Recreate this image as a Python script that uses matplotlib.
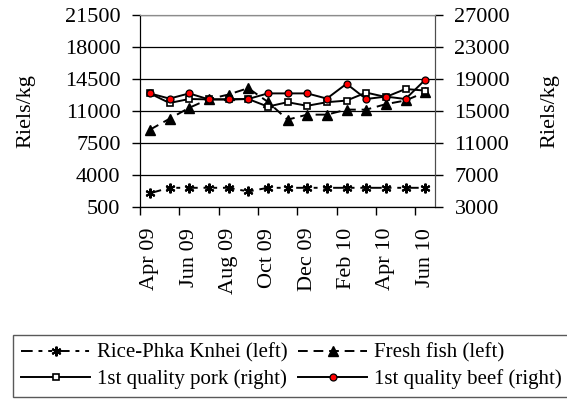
# plot.py
# Rice, fish, pork and beef prices (Riels/kg), Apr 09 - Jun 10

import matplotlib
matplotlib.use("Agg")
import matplotlib.pyplot as plt
import numpy as np

plt.rcParams.update({
    "font.family": ["Liberation Serif", "DejaVu Serif"],
    "font.size": 16,
})

# --- DATA ---
months = ["Apr 09", "May 09", "Jun 09", "Jul 09", "Aug 09", "Sep 09", "Oct 09",
          "Nov 09", "Dec 09", "Jan 10", "Feb 10", "Mar 10", "Apr 10", "May 10",
          "Jun 10"]
rice  = [2000, 2600, 2600, 2600, 2600, 2200, 2600, 2600, 2600, 2600, 2600,
         2600, 2600, 2600, 2600]
fish  = [8950, 10150, 11350, 12300, 12800, 13500, 12000, 10050, 10600, 10600,
         11150, 11150, 11750, 12150, 13050]
pork  = [17200, 16000, 16500, 16450, 16450, 16500, 15550, 16100, 15650, 16100,
         16300, 17300, 16750, 17750, 17550]
beef  = [17200, 16550, 17200, 16450, 16450, 16500, 17200, 17200, 17200, 16550,
         18400, 16500, 16800, 16500, 18900]

left_ticks  = [500, 4000, 7500, 11000, 14500, 18000, 21500]
right_ticks = [3000, 7000, 11000, 15000, 19000, 23000, 27000]

# --- FIGURE ---
fig = plt.figure(figsize=(5.67, 4.0), dpi=100)
ax = fig.add_axes([140/567, 1 - 207/400, 295/567, 192/400])
ax2 = ax.twinx()

x = np.arange(len(months))

l_rice, = ax.plot(x, rice, color="black", lw=1.4, dashes=(6, 3, 2, 3, 2, 3),
                  marker=(6, 2, 0), ms=7, mew=1.5, label="Rice-Phka Knhei (left)")
l_fish, = ax.plot(x, fish, color="black", lw=1.4, dashes=(5, 3),
                  marker="^", ms=7, mfc="black", mec="black",
                  label="Fresh fish (left)")
l_pork, = ax2.plot(x, pork, color="black", lw=1.4, marker="s", ms=4.5,
                   mfc="white", mec="black", mew=1.2,
                   label="1st quality pork (right)")
l_beef, = ax2.plot(x, beef, color="black", lw=1.4, marker="o", ms=5,
                   mfc="red", mec="black", mew=0.9,
                   label="1st quality beef (right)")

# axes limits / ticks
ax.set_xlim(-0.5, len(months) - 0.5)
ax.set_ylim(left_ticks[0], left_ticks[-1])
ax2.set_ylim(right_ticks[0], right_ticks[-1])
ax.set_yticks(left_ticks)
ax2.set_yticks(right_ticks)

ax.set_xticks(x[::2])
ax.set_xticklabels(months[::2], rotation=90)
ax.set_xticks(np.arange(-0.5, len(months) - 1, 2), minor=True)
ax.tick_params(axis="x", which="major", length=0, pad=15)
ax.tick_params(axis="x", which="minor", length=6, width=1, direction="out")
ax.tick_params(axis="y", length=6, width=1, pad=8)
ax2.tick_params(axis="y", length=6, width=1, pad=8)

ax.set_ylabel("Riels/kg", labelpad=21)
ax2.set_ylabel("Riels/kg", labelpad=22)

# gridlines
ax.grid(axis="y", color="black", lw=0.9)
ax.set_axisbelow(True)

for a in (ax, ax2):
    a.spines["top"].set_color("0.55")
    a.spines["right"].set_color("0.3")
    a.spines["left"].set_color("black")
    a.spines["bottom"].set_color("black")
ax2.patch.set_visible(False)

# legend (runs off the bottom/right edge like the original)
fig.legend([l_rice, l_pork, l_fish, l_beef],
           [l_rice.get_label(), l_pork.get_label(),
            l_fish.get_label(), l_beef.get_label()],
           ncol=2, loc="upper left", bbox_to_anchor=(13/567, 1 - 335/400),
           frameon=True, fancybox=False, edgecolor="0.35", framealpha=1,
           borderaxespad=0, borderpad=0.4, handlelength=3.3,
           handletextpad=0.35, columnspacing=0.5, labelspacing=0.3,
           fontsize=15)

fig.savefig("out.png", dpi=100, facecolor="white")
